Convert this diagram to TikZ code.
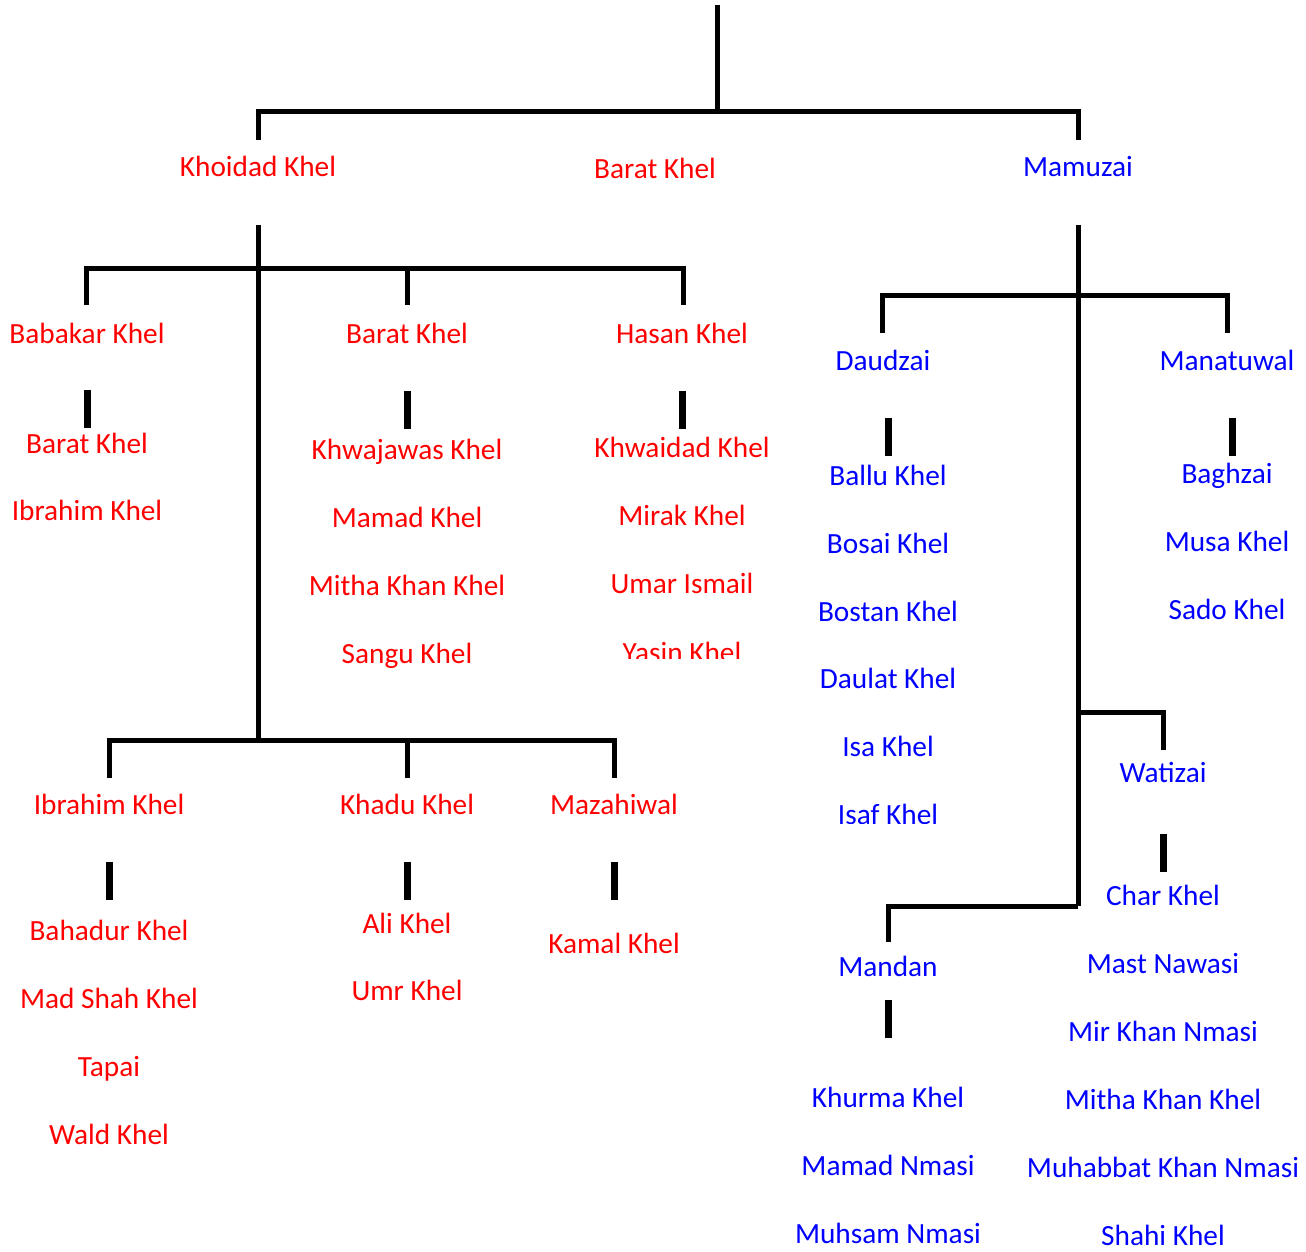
\documentclass[tikz,border=0pt]{standalone}
\usepackage{fontspec}
\setmainfont{Carlito}
\definecolor{tred}{RGB}{255,0,0}
\definecolor{tblue}{RGB}{0,0,255}
\begin{document}
\begin{tikzpicture}[x=1pt,y=-1pt,
  lbl/.style={anchor=base,inner sep=0pt,font=\fontsize{29.3}{32}\selectfont},
  rd/.style={lbl,text=tred},
  bl/.style={lbl,text=tblue},
  conn/.style={line width=5pt,black},
  tick/.style={line width=7pt,black}]
\useasboundingbox (0,0) rectangle (1306,1252);
% ---------- top level
\coordinate (root) at (717,5);
\coordinate (rootj) at (717,112);
\coordinate (tl) at (258,112);
\coordinate (tr) at (1078,112);
\coordinate (tlb) at (258,140);
\coordinate (trb) at (1078,140);
\draw[conn] (root) -- (rootj);
\draw[conn] (tlb) -- (tl) -- (tr) -- (trb);
\node[rd] (khoidad) at (258,177) {Khoidad Khel};
\node[rd] (barat0) at (655,179) {Barat Khel};
\node[bl] (mamuzai) at (1078,177) {Mamuzai};
% ---------- Khoidad subtree
\coordinate (kv1) at (258,225);
\coordinate (kv2) at (258,740);
\draw[conn] (kv1) -- (kv2);
\coordinate (k1a) at (86,305); \coordinate (k1b) at (86,268);
\coordinate (k3a) at (683,305); \coordinate (k3b) at (683,268);
\coordinate (k2a) at (407,305); \coordinate (k2b) at (407,268);
\draw[conn] (k1a) -- (k1b) -- (k3b) -- (k3a);
\draw[conn] (k2b) -- (k2a);
\node[rd] (babakar) at (87,343) {Babakar Khel};
\node[rd] (barat1) at (407,343) {Barat Khel};
\node[rd] (hasan) at (682,343) {Hasan Khel};
\coordinate (t1a) at (87,390); \coordinate (t1b) at (87,428);
\coordinate (t2a) at (407,391); \coordinate (t2b) at (407,429);
\coordinate (t3a) at (682,391); \coordinate (t3b) at (682,429);
\draw[tick] (t1a) -- (t1b);
\draw[tick] (t2a) -- (t2b);
\draw[tick] (t3a) -- (t3b);
\node[rd] (baratk) at (87,453) {Barat Khel};
\node[rd] (ibrahim1) at (87,520) {Ibrahim Khel};
\node[rd] (khwajawas) at (407,459) {Khwajawas Khel};
\node[rd] (mamad1) at (407,527) {Mamad Khel};
\node[rd] (mitha1) at (407,595) {Mitha Khan Khel};
\node[rd] (sangu) at (407,663) {Sangu Khel};
\node[rd] (khwaidad) at (682,457) {Khwaidad Khel};
\node[rd] (mirak) at (682,525) {Mirak Khel};
\node[rd] (umar) at (682,593) {Umar Ismail};
\begin{scope}
\clip (560,600) rectangle (800,658);
\node[rd] (yasin) at (682,662) {Yasin Khel};
\end{scope}
% lower Khoidad branch
\coordinate (b1a) at (109,778); \coordinate (b1b) at (109,740);
\coordinate (b3a) at (614,778); \coordinate (b3b) at (614,740);
\coordinate (b2a) at (407,778); \coordinate (b2b) at (407,740);
\draw[conn] (b1a) -- (b1b) -- (b3b) -- (b3a);
\draw[conn] (b2b) -- (b2a);
\node[rd] (ibrahim2) at (109,814) {Ibrahim Khel};
\node[rd] (khadu) at (407,814) {Khadu Khel};
\node[rd] (mazahiwal) at (614,814) {Mazahiwal};
\coordinate (u1a) at (109,862); \coordinate (u1b) at (109,900);
\coordinate (u2a) at (407,862); \coordinate (u2b) at (407,900);
\coordinate (u3a) at (614,862); \coordinate (u3b) at (614,900);
\draw[tick] (u1a) -- (u1b);
\draw[tick] (u2a) -- (u2b);
\draw[tick] (u3a) -- (u3b);
\node[rd] (bahadur) at (109,940) {Bahadur Khel};
\node[rd] (madshah) at (109,1008) {Mad Shah Khel};
\node[rd] (tapai) at (109,1076) {Tapai};
\node[rd] (wald) at (109,1144) {Wald Khel};
\node[rd] (ali) at (407,933) {Ali Khel};
\node[rd] (umr) at (407,1000) {Umr Khel};
\node[rd] (kamal) at (614,953) {Kamal Khel};
% ---------- Mamuzai subtree
\coordinate (mv1) at (1078,225);
\coordinate (mv2) at (1078,906);
\draw[conn] (mv1) -- (mv2);
\coordinate (d1a) at (882,333); \coordinate (d1b) at (882,295);
\coordinate (d2a) at (1227,333); \coordinate (d2b) at (1227,295);
\draw[conn] (d1a) -- (d1b) -- (d2b) -- (d2a);
\node[bl] (daudzai) at (883,370) {Daudzai};
\node[bl] (manatuwal) at (1227,370) {Manatuwal};
\coordinate (v1a) at (888,418); \coordinate (v1b) at (888,456);
\coordinate (v2a) at (1232,418); \coordinate (v2b) at (1232,456);
\draw[tick] (v1a) -- (v1b);
\draw[tick] (v2a) -- (v2b);
\node[bl] (ballu) at (888,485) {Ballu Khel};
\node[bl] (bosai) at (888,553) {Bosai Khel};
\node[bl] (bostan) at (888,621) {Bostan Khel};
\node[bl] (daulat) at (888,688) {Daulat Khel};
\node[bl] (isa) at (888,756) {Isa Khel};
\begin{scope}
\clip (780,780) rectangle (1000,823);
\node[bl] (isaf) at (888,824) {Isaf Khel};
\end{scope}
\node[bl] (baghzai) at (1227,483) {Baghzai};
\node[bl] (musa) at (1227,551) {Musa Khel};
\node[bl] (sado) at (1227,619) {Sado Khel};
% Watizai
\coordinate (w0) at (1078,712);
\coordinate (w1) at (1163,712);
\coordinate (w2) at (1163,750);
\draw[conn] (w0) -- (w1) -- (w2);
\node[bl] (watizai) at (1163,782) {Watizai};
\coordinate (x1a) at (1163,834); \coordinate (x1b) at (1163,872);
\draw[tick] (x1a) -- (x1b);
\node[bl] (char) at (1163,905) {Char Khel};
\node[bl] (mast) at (1163,973) {Mast Nawasi};
\node[bl] (mirkhan) at (1163,1041) {Mir Khan Nmasi};
\node[bl] (mitha2) at (1163,1109) {Mitha Khan Khel};
\node[bl] (muhabbat) at (1163,1177) {Muhabbat Khan Nmasi};
\node[bl] (shahi) at (1163,1245) {Shahi Khel};
% Mandan
\coordinate (m1) at (888,906);
\coordinate (m2) at (888,942);
\draw[conn] (mv2) -- (m1) -- (m2);
\node[bl] (mandan) at (888,976) {Mandan};
\coordinate (y1a) at (888,1000); \coordinate (y1b) at (888,1038);
\draw[tick] (y1a) -- (y1b);
\node[bl] (khurma) at (888,1107) {Khurma Khel};
\node[bl] (mamad2) at (888,1175) {Mamad Nmasi};
\node[bl] (muhsam) at (888,1243) {Muhsam Nmasi};
\end{tikzpicture}
\end{document}
